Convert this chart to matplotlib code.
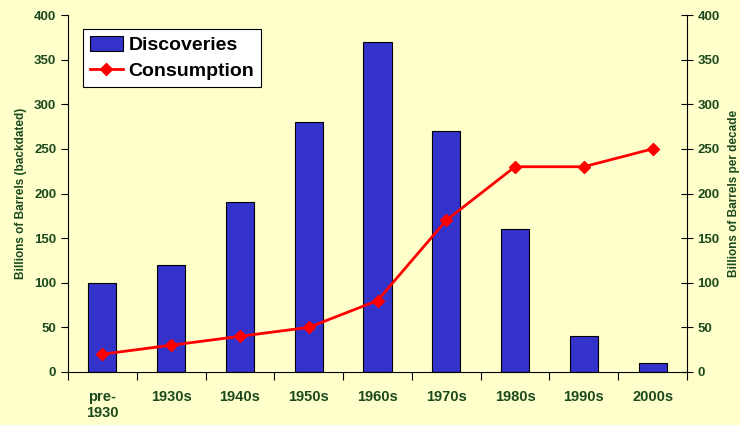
#!/usr/bin/env python3

import matplotlib
matplotlib.use("Agg")
import matplotlib.pyplot as plt
import numpy as np

categories = ["pre-\n1930", "1930s", "1940s", "1950s", "1960s", "1970s", "1980s", "1990s", "2000s"]
discoveries = [100, 120, 190, 280, 370, 270, 160, 40, 10]
consumption = [20, 30, 40, 50, 80, 170, 230, 230, 250]
y_ticks = [0, 50, 100, 150, 200, 250, 300, 350, 400]

BG = "#FFFFCC"
GREEN = "#1c4a1c"
BAR = "#3333CC"
LINE = "#FF0000"

plt.rcParams["font.family"] = ["Liberation Sans", "DejaVu Sans"]
plt.rcParams["font.weight"] = "bold"

fig = plt.figure(figsize=(7.4, 4.25), dpi=100, facecolor=BG)
ax = fig.add_axes([68 / 740, 1 - 372 / 425, (687 - 68) / 740, (372 - 15) / 425])
ax.set_facecolor(BG)

x = np.arange(len(categories))
bars = ax.bar(x, discoveries, width=0.41, color=BAR, edgecolor="black", linewidth=0.8,
              label="Discoveries", zorder=2)
line, = ax.plot(x, consumption, color=LINE, linewidth=2, marker="D", markersize=6,
                label="Consumption", zorder=3)

ax.set_xlim(-0.5, len(categories) - 0.5)
ax.set_ylim(0, 400)
ax.set_yticks(y_ticks)
ax.set_xticks(np.arange(-0.5, len(categories), 1.0))
ax.set_xticklabels([])
ax.tick_params(axis="x", which="major", direction="out", length=6, color="black")
ax.set_xticks(x, minor=True)
ax.set_xticklabels(categories, minor=True, fontsize=10.5, fontweight="bold", color=GREEN)
ax.tick_params(axis="x", which="minor", length=0, pad=13)
ax.tick_params(axis="y", direction="out", length=5, labelsize=9.5, labelcolor=GREEN,
               color="black")
for lbl in ax.get_yticklabels():
    lbl.set_fontweight("bold")

ax.spines["top"].set_visible(False)
ax.spines["right"].set_visible(False)

ax.set_ylabel("Billions of Barrels (backdated)", fontsize=8.5, fontweight="bold",
              color=GREEN, labelpad=5)

ax2 = ax.twinx()
ax2.set_ylim(0, 400)
ax2.set_yticks(y_ticks)
ax2.tick_params(axis="y", direction="inout", length=8, labelsize=9.5, labelcolor=GREEN,
                color="black")
for lbl in ax2.get_yticklabels():
    lbl.set_fontweight("bold")
for side in ["top", "left", "bottom"]:
    ax2.spines[side].set_visible(False)
ax2.set_ylabel("Billions of Barrels per decade", fontsize=8.5, fontweight="bold",
               color=GREEN, labelpad=6)

leg = ax.legend([bars, line], ["Discoveries", "Consumption"], loc="upper left",
                bbox_to_anchor=(0.024, 0.96), fancybox=False,
                framealpha=1, edgecolor="black", fontsize=14, handlelength=1.7,
                handleheight=0.8, borderpad=0.35, labelspacing=0.4, handletextpad=0.3,
                borderaxespad=0)
leg.get_frame().set_linewidth(0.8)
for t in leg.get_texts():
    t.set_fontweight("bold")

fig.savefig("out.png", dpi=100, facecolor=BG)
